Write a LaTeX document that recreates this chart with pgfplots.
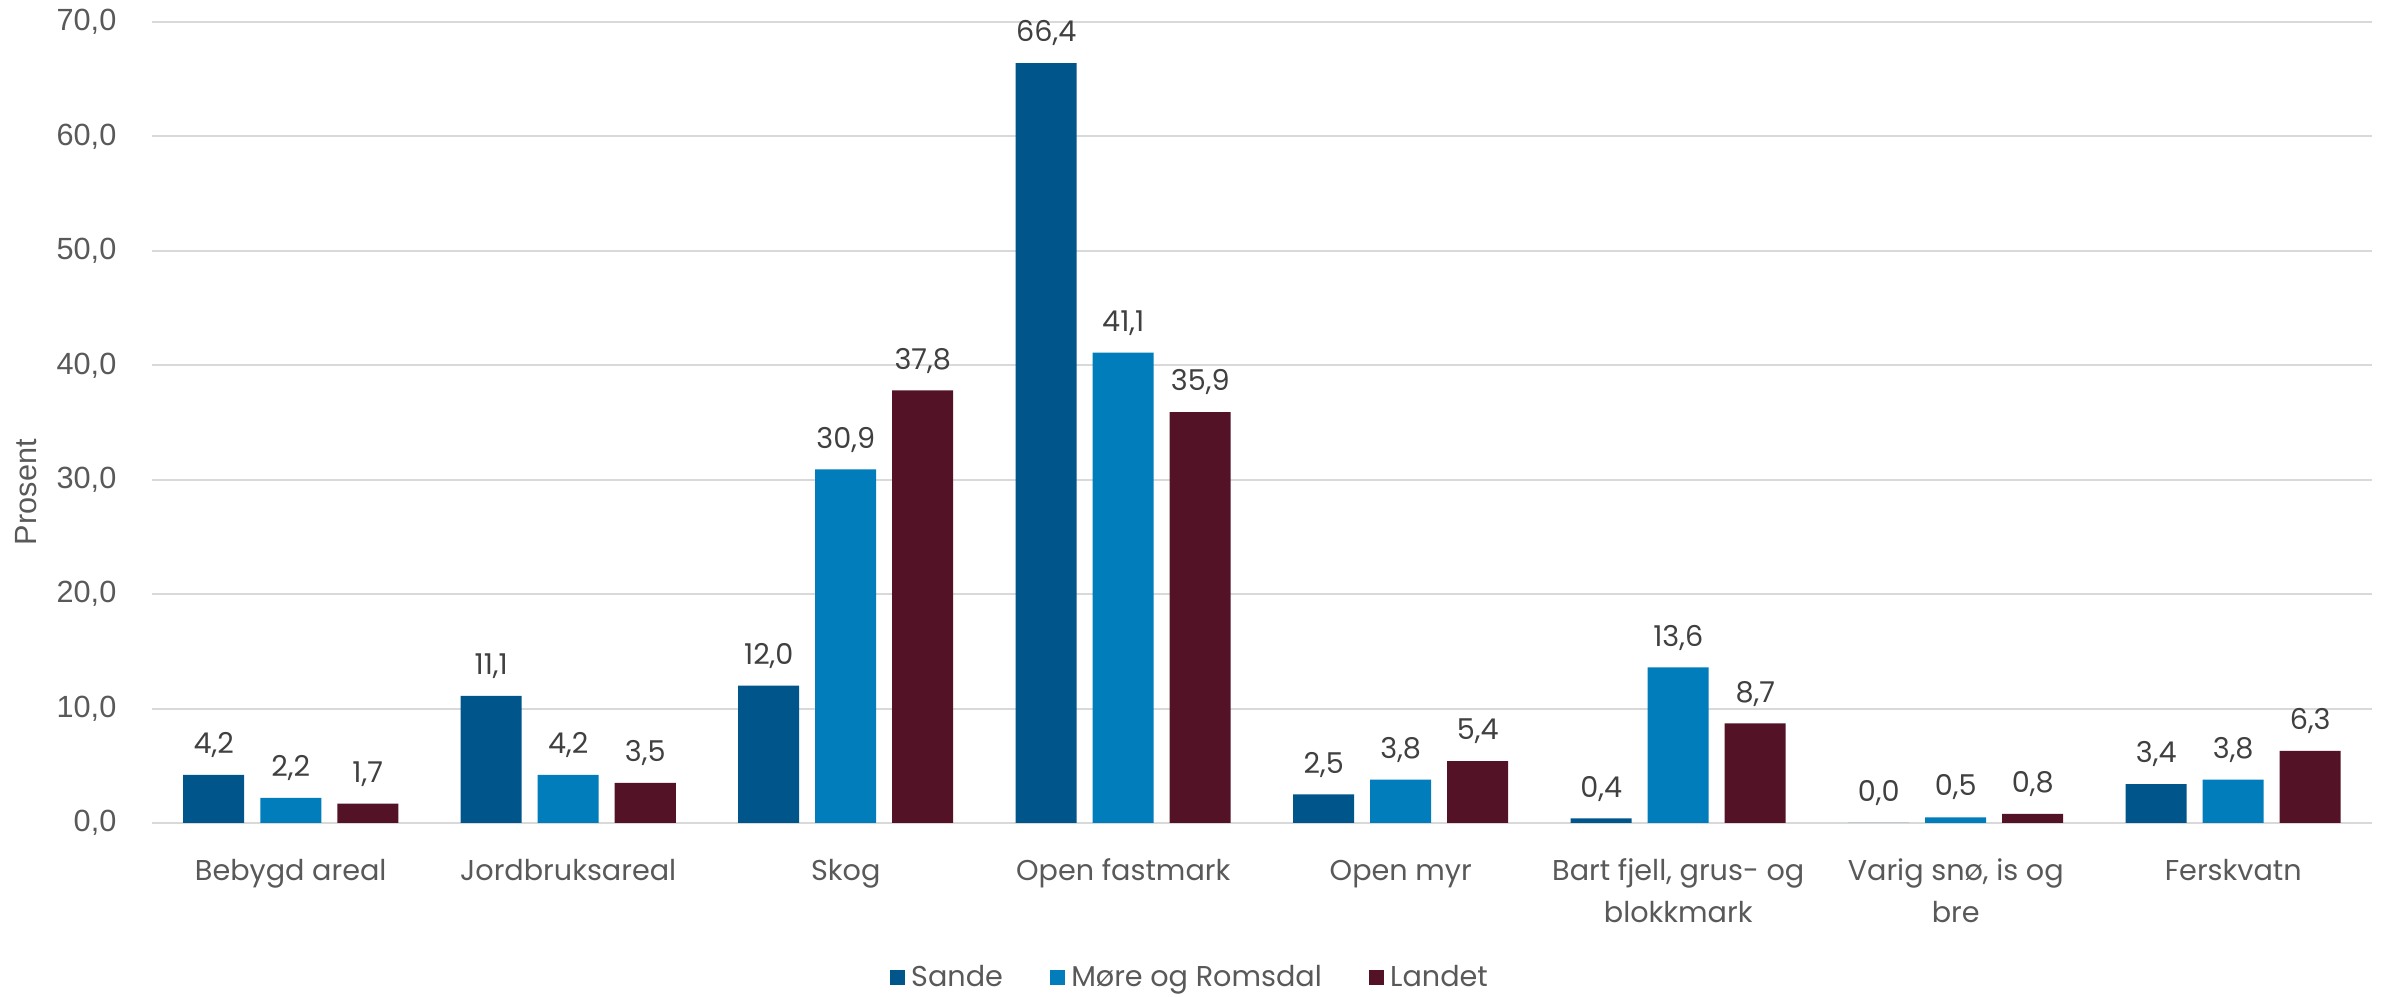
\documentclass[border=0pt]{standalone}
\usepackage{pgfplots}
\pgfplotsset{compat=1.18}
\usepackage{fontspec}
\setmainfont{Poppins}
\newfontfamily\arialf{Liberation Sans}
\definecolor{cSande}{HTML}{00568A}
\definecolor{cMore}{HTML}{007DBA}
\definecolor{cLandet}{HTML}{541226}
\definecolor{tgray}{HTML}{595959}
\definecolor{dgray}{HTML}{404040}
\definecolor{grid}{HTML}{D9D9D9}
\begin{document}
\begin{tikzpicture}
\useasboundingbox (0,0) rectangle (715.2pt,299.1pt);
\begin{axis}[
  at={(45.6pt,52.2pt)}, anchor=south west,
  scale only axis, width=666pt, height=240.3pt,
  ymin=0, ymax=70, xmin=-0.5, xmax=7.5,
  ybar=4.8pt, bar width=18.3pt,
  axis line style={draw=none},
  major tick length=0pt,
  ymajorgrids, grid style={color=grid, line width=0.6pt},
  ytick={0,10,...,70},
  xtick={0,...,7},
  xticklabels={\strut Bebygd areal, \strut Jordbruksareal, \strut Skog, \strut Open fastmark, \strut Open myr, {\strut Bart fjell, grus- og\\blokkmark}, {\strut Varig snø, is og\\bre}, \strut Ferskvatn},
  xticklabel style={align=center, anchor=north, yshift=-8.28pt, inner sep=0pt, color=tgray, font=\fontsize{8.6}{12.6}\selectfont},
  yticklabel style={anchor=east, inner sep=0pt, xshift=-10.5pt, color=tgray, font=\arialf\fontsize{9.2}{11}\selectfont},
  /pgf/number format/.cd, assume math mode=true, use comma, fixed, fixed zerofill, precision=1, /pgfplots/.cd,
  nodes near coords,
  nodes near coords style={anchor=base, yshift=6.4pt, inner sep=0pt, color=dgray, font=\fontsize{8.6}{10}\selectfont},
  clip=false,
  legend columns=3,
  legend style={at={(rel axis cs:0.4685,0)}, anchor=center, yshift=-46.5pt, draw=none, fill=none,
    font=\fontsize{8.6}{10}\selectfont, text=tgray, inner sep=0pt,
    /tikz/every even column/.append style={column sep=12pt}},
  legend image code/.code={\fill[#1] (0pt,-2.25pt) rectangle (4.5pt,2.25pt);},
]
\addplot[fill=cSande, draw=none] coordinates {(0,4.2) (1,11.1) (2,12.0) (3,66.4) (4,2.5) (5,0.4) (6,0.0) (7,3.4)};
\addplot[fill=cMore, draw=none] coordinates {(0,2.2) (1,4.2) (2,30.9) (3,41.1) (4,3.8) (5,13.6) (6,0.5) (7,3.8)};
\addplot[fill=cLandet, draw=none] coordinates {(0,1.7) (1,3.5) (2,37.8) (3,35.9) (4,5.4) (5,8.7) (6,0.8) (7,6.3)};
\legend{Sande, Møre og Romsdal, Landet}
\node[rotate=90, font=\arialf\fontsize{9.2}{11}\selectfont, color=tgray] at (axis description cs:-0.0568,0.413) {Prosent};
\end{axis}
\end{tikzpicture}
\end{document}
